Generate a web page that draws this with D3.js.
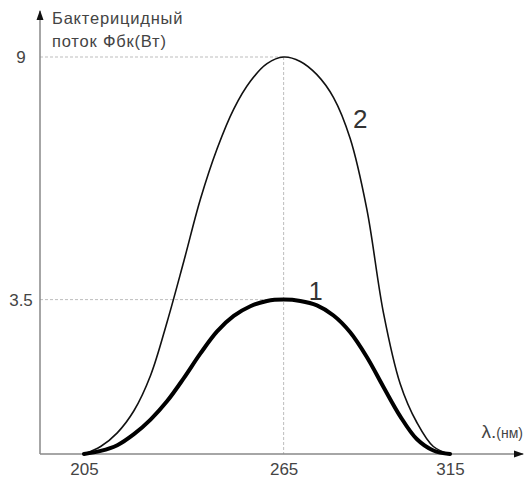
<!DOCTYPE html>
<html>
<head>
<meta charset="utf-8">
<script src="https://cdn.jsdelivr.net/npm/d3@7"></script>
<style>
  body { margin: 0; background: #fff; }
  text { font-family: "Liberation Sans", Arial, sans-serif; }
</style>
</head>
<body>
<script>
const width = 527;
const height = 478;

// wavelength, nm
const wavelengths = [205,210,215,220,225,230,235,240,245,250,255,260,265,270,275,280,285,290,295,300,305,310,315];
// curve 1 (thick) and curve 2 (thin), bactericidal flux, W
const flux1 = [0,0.07,0.2,0.45,0.78,1.2,1.72,2.28,2.78,3.13,3.35,3.47,3.5,3.47,3.37,3.14,2.76,2.2,1.52,0.86,0.34,0.08,0];
const flux2 = [0,0.17,0.48,0.98,1.78,3.0,4.37,5.78,6.92,7.82,8.45,8.85,9.0,8.9,8.6,8.08,7.15,5.55,3.2,1.6,0.72,0.17,0];
const xTicks = [205,265,315];
const yTicks = [3.5,9];
const peakX = 265;

const axisX0 = 40, axisY0 = 454;

const svg = d3.select("body").append("svg")
  .attr("width",width)
  .attr("height",height);

const x = d3.scaleLinear().domain([205,315]).range([84,450]);
const y = d3.scaleLinear().domain([0,9]).range([axisY0,57]);

const defs = svg.append("defs");
defs.append("marker")
  .attr("id","arrow")
  .attr("viewBox","0 0 10 10")
  .attr("refX",9).attr("refY",5)
  .attr("markerWidth",10).attr("markerHeight",10)
  .attr("markerUnits","userSpaceOnUse")
  .attr("orient","auto")
  .append("path")
  .attr("d","M0,1.5 L10,5 L0,8.5 Z")
  .attr("fill","#111");

// dashed guide lines
const guides = svg.append("g")
  .attr("stroke","#bdbdbd")
  .attr("stroke-width",1)
  .attr("stroke-dasharray","3,2");
yTicks.forEach(v=>{
  guides.append("line")
    .attr("x1",axisX0).attr("x2",x(peakX))
    .attr("y1",y(v)).attr("y2",y(v));
});
guides.append("line")
  .attr("x1",x(peakX)).attr("x2",x(peakX))
  .attr("y1",y(9)).attr("y2",axisY0);

// axes with arrows
svg.append("line")
  .attr("x1",axisX0).attr("y1",axisY0)
  .attr("x2",523).attr("y2",axisY0)
  .attr("stroke","#888").attr("stroke-width",1.5)
  .attr("marker-end","url(#arrow)");
svg.append("line")
  .attr("x1",axisX0).attr("y1",axisY0)
  .attr("x2",axisX0).attr("y2",11)
  .attr("stroke","#888").attr("stroke-width",1.5)
  .attr("marker-end","url(#arrow)");

// tick labels
const xAxis = svg.append("g")
  .attr("transform",`translate(0,${axisY0})`)
  .call(d3.axisBottom(x).tickValues(xTicks).tickSize(0).tickPadding(9).tickFormat(d=>d));
xAxis.select(".domain").remove();
xAxis.selectAll("text")
  .style("font-family","'Liberation Sans', Arial, sans-serif")
  .style("font-size","17px")
  .attr("fill","#444");

const yAxis = svg.append("g")
  .attr("transform",`translate(${axisX0},0)`)
  .call(d3.axisLeft(y).tickValues(yTicks).tickSize(0).tickPadding(19).tickFormat(d=>d));
yAxis.select(".domain").remove();
yAxis.selectAll("text")
  .attr("text-anchor","middle")
  .style("font-family","'Liberation Sans', Arial, sans-serif")
  .style("font-size","17px")
  .attr("fill","#444");

// curves
const line = d3.line()
  .x((d,i)=>x(wavelengths[i]))
  .y(d=>y(d))
  .curve(d3.curveCatmullRom.alpha(0.5));

svg.append("path")
  .datum(flux2)
  .attr("d",line)
  .attr("fill","none")
  .attr("stroke","#111")
  .attr("stroke-width",1.6);

svg.append("path")
  .datum(flux1)
  .attr("d",line)
  .attr("fill","none")
  .attr("stroke","#000")
  .attr("stroke-width",4)
  .attr("stroke-linecap","round");

// curve numbers
svg.append("text")
  .attr("x",x(288)).attr("y",y(7.4))
  .attr("text-anchor","middle")
  .attr("font-size","26px")
  .attr("fill","#333")
  .text("2");
svg.append("text")
  .attr("x",x(274.6)).attr("y",y(3.5))
  .attr("text-anchor","middle")
  .attr("font-size","25px")
  .attr("fill","#333")
  .text("1");

// axis titles
const yTitle = svg.append("text")
  .attr("x",52).attr("y",24)
  .attr("font-size","16.5px")
  .attr("letter-spacing","0.8px")
  .attr("fill","#444");
yTitle.append("tspan").attr("x",52).attr("y",24).text("Бактерицидный");
yTitle.append("tspan").attr("x",52).attr("y",47).text("поток Фбк(Вт)");

const xTitle = svg.append("text")
  .attr("x",523).attr("y",438)
  .attr("text-anchor","end")
  .attr("fill","#444");
xTitle.append("tspan").attr("font-size","19px").text("λ.");
xTitle.append("tspan").attr("font-size","14px").text("(нм)");
</script>
</body>
</html>
